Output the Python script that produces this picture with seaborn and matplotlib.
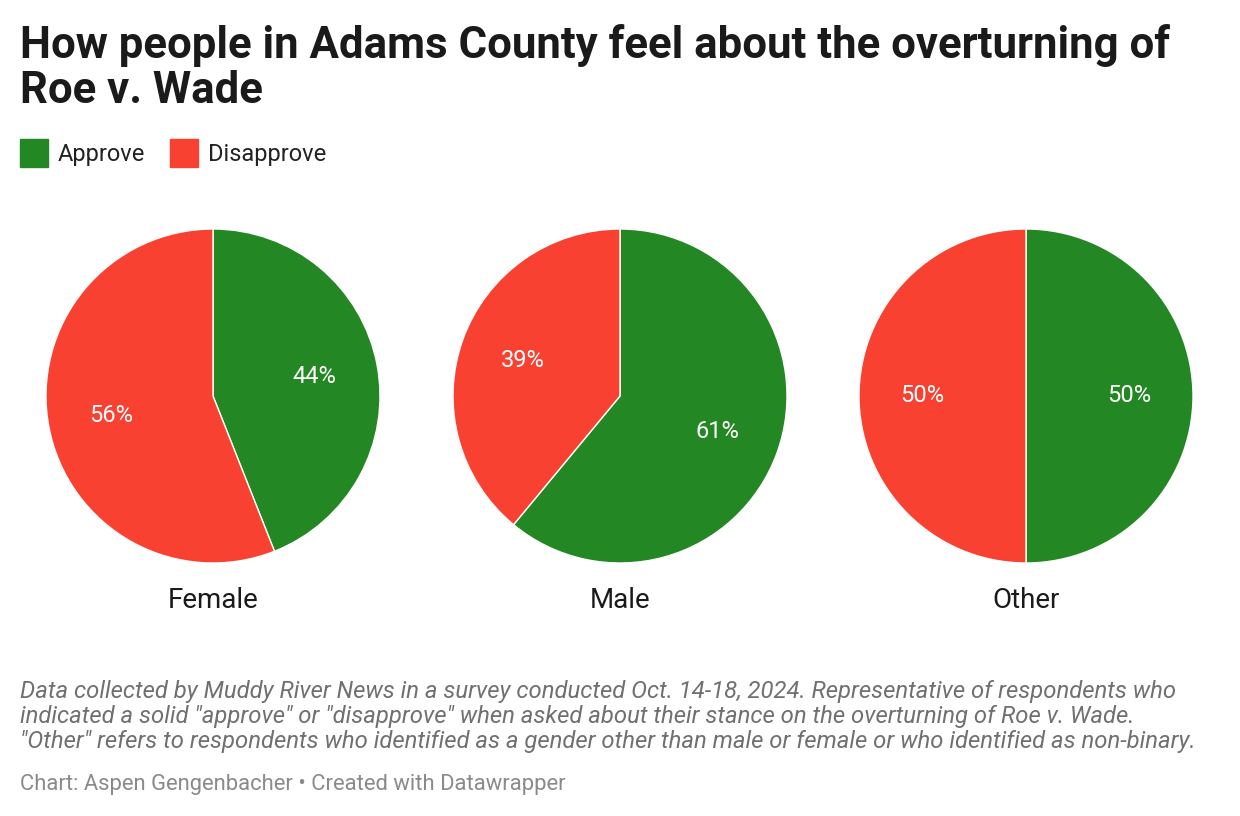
import matplotlib
matplotlib.use("Agg")
import matplotlib.pyplot as plt
import seaborn as sns
from matplotlib.patches import Rectangle

# data
groups = ["Female", "Male", "Other"]
responses = ["Approve", "Disapprove"]
approve = [44, 61, 50]
disapprove = [56, 39, 50]
colors = ["#238823", "#f94132"]

title_lines = ["How people in Adams County feel about the overturning of", "Roe v. Wade"]
note_lines = [
    'Data collected by Muddy River News in a survey conducted Oct. 14-18, 2024. Representative of respondents who',
    'indicated a solid "approve" or "disapprove" when asked about their stance on the overturning of Roe v. Wade.',
    '"Other" refers to respondents who identified as a gender other than male or female or who identified as non-binary.',
]
credit = "Chart: Aspen Gengenbacher \u2022 Created with Datawrapper"

sns.set_theme(style="white")
plt.rcParams['font.family'] = ['Roboto', 'DejaVu Sans']

W, H = 1240, 816
fig = plt.figure(figsize=(W / 100, H / 100), dpi=100)


def fx(px):
    return px / W


def fy(py):
    return 1 - py / H


# title
for line, base in zip(title_lines, [58, 103]):
    fig.text(fx(20), fy(base), line, fontsize=31.5, fontweight="bold", color="#1a1a1a",
             va="baseline", ha="left")

# legend
lx = 20
for name, c in zip(responses, colors):
    fig.add_artist(Rectangle((fx(lx), fy(167)), fx(28), 28 / H, color=c, transform=fig.transFigure))
    fig.text(fx(lx + 38), fy(154), name, fontsize=17, color="#222222", va="center", ha="left")
    lx += 150

# pies
centers = [213, 620, 1026]
r = 167
for cx, name, a, d in zip(centers, groups, approve, disapprove):
    ax = fig.add_axes([fx(cx - r), fy(396 + r), 2 * r / W, 2 * r / H])
    ax.pie([a, d], colors=colors, startangle=90, counterclock=False,
           autopct=lambda p: f"{p:.0f}%", pctdistance=0.62,
           wedgeprops=dict(edgecolor="white", linewidth=1),
           textprops=dict(color="white", fontsize=17))
    ax.set_xlim(-1, 1)
    ax.set_ylim(-1, 1)
    ax.set_aspect("equal")
    ax.axis("off")
    fig.text(fx(cx), fy(601), name, fontsize=20, color="#1a1a1a", ha="center", va="center")

# notes
for line, base in zip(note_lines, [698, 723, 748]):
    fig.text(fx(20), fy(base), line, fontsize=17.2, style="italic", color="#707070",
             va="baseline", ha="left")
fig.text(fx(20), fy(790), credit, fontsize=15.8, color="#8a8a8a", va="baseline", ha="left")

fig.savefig("out.png", dpi=100, facecolor="white")
